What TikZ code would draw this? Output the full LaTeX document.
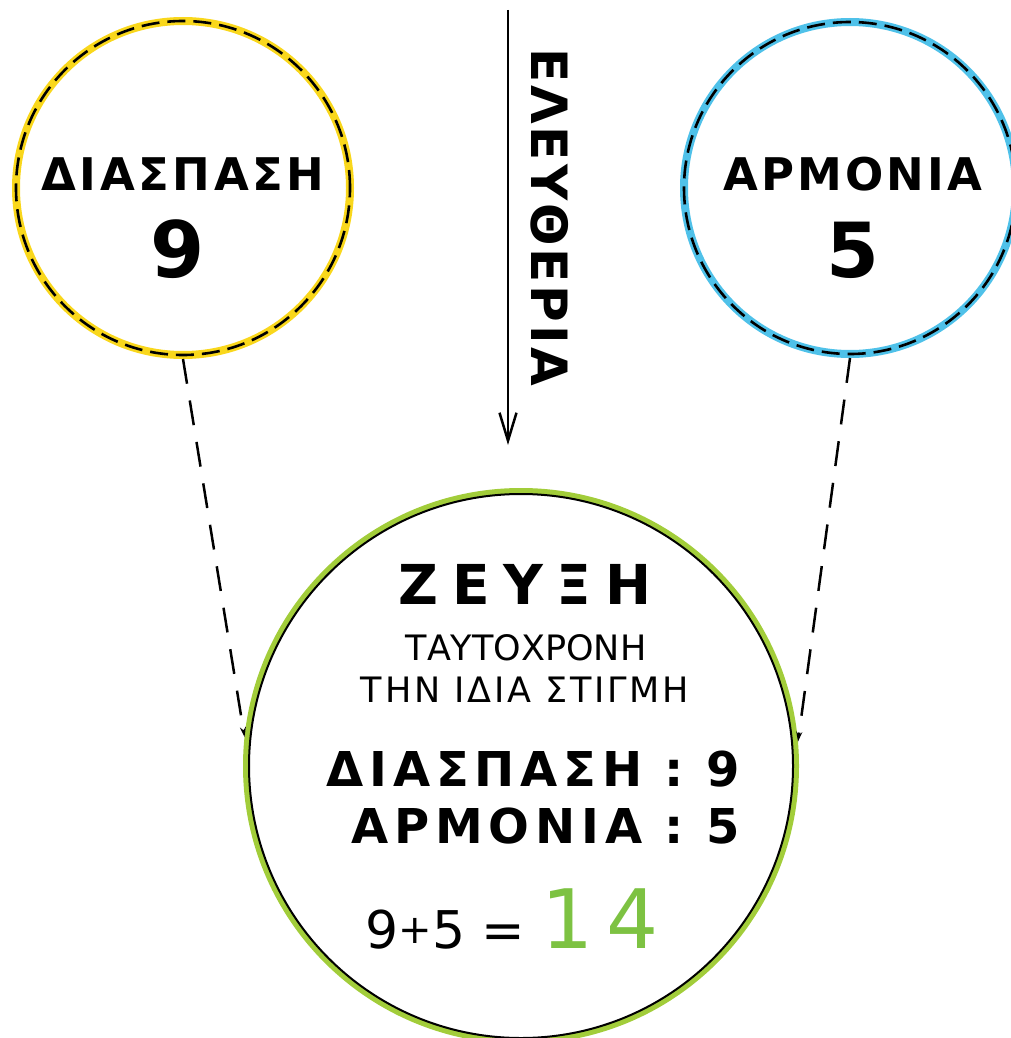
\documentclass[tikz,border=0pt]{standalone}
\usepackage{fontspec}
\setmainfont{DejaVu Sans}
\usetikzlibrary{arrows.meta}
\definecolor{ycol}{HTML}{F9D71C}
\definecolor{bcol}{HTML}{4FC1E9}
\definecolor{gcol}{HTML}{A2CD3A}
\definecolor{gnum}{HTML}{7DC242}
\newcommand{\gls}[1]{\addfontfeature{LetterSpace=#1}}
\tikzset{
  ringdash/.style={circle, inner sep=0pt, line width=8pt,
    postaction={draw=black, line width=2.6pt, dash pattern=on 18pt off 8pt}},
  ringgreen/.style={circle, inner sep=0pt, draw=gcol, line width=6pt},
  linkline/.style={draw=black, line width=2.5pt, dash pattern=on 25pt off 17pt,
    -{Stealth[length=10pt,width=6pt]}},
  flowarrow/.style={draw=black, line width=2.5pt, -{Straight Barb[length=28pt,width=17pt,line width=2.5pt]}},
  txt/.style={inner sep=0pt, anchor=base},
}
\begin{document}
\begin{tikzpicture}[x=1pt,y=-1pt]
\useasboundingbox (0,0) rectangle (1011,1038);
% circles
\node[ringdash, draw=ycol, minimum size=334pt] (yl) at (183,188) {};
\node[ringdash, draw=bcol, minimum size=332pt] (bl) at (850,188) {};
\node[ringgreen, minimum size=550pt] (gr) at (521,766) {};
\draw[black, line width=2pt] (gr.center) circle (272pt);
% connectors
\draw[linkline] (yl.south) -- (gr.174.6);
\draw[linkline] (bl.south) -- (gr.5);
\coordinate (arrtop) at (508,10);
\coordinate (arrbot) at (508,445);
\draw[flowarrow] (arrtop) -- (arrbot);
% vertical word
\node[txt, rotate=-90, font={\fontsize{50}{50}\selectfont\bfseries\gls{6}}] (eleft) at (531,217) {ΕΛΕΥΘΕΡΙΑ};
% yellow circle
\node[txt, font={\fontsize{45}{45}\selectfont\bfseries\gls{8}}] (ytitle) at (183,190) {ΔΙΑΣΠΑΣΗ};
\node[txt, font={\fontsize{78}{78}\selectfont\bfseries}] (ynum) at (178,277) {9};
% blue circle
\node[txt, font={\fontsize{45}{45}\selectfont\bfseries\gls{7}}] (btitle) at (853,190) {ΑΡΜΟΝΙΑ};
\node[txt, font={\fontsize{76}{76}\selectfont\bfseries}] (bnum) at (853,277) {5};
% green circle
\node[txt, font={\fontsize{55}{55}\selectfont\bfseries\gls{25}}] (gtitle) at (525,604) {ΖΕΥΞΗ};
\node[txt, font={\fontsize{35}{35}\selectfont}] (gsub1) at (526,660) {ΤΑΥΤΟΧΡΟΝΗ};
\node[txt, font={\fontsize{35}{35}\selectfont\gls{8}}] (gsub2) at (525,702) {ΤΗΝ ΙΔΙΑ ΣΤΙΓΜΗ};
\node[txt, anchor=base east, font={\fontsize{48}{48}\selectfont\bfseries\gls{12}}] (gl1) at (740,786) {ΔΙΑΣΠΑΣΗ : 9};
\node[txt, anchor=base east, font={\fontsize{48}{48}\selectfont\bfseries\gls{12}}] (gl2) at (740,843) {ΑΡΜΟΝΙΑ : 5};
\node[txt, font={\fontsize{52}{52}\selectfont}] (gsum) at (512,948) {9\raisebox{5pt}{\fontsize{40}{40}\selectfont +}5 = {\color{gnum}\fontsize{82}{82}\selectfont\gls{15}14}};
\end{tikzpicture}
\end{document}
